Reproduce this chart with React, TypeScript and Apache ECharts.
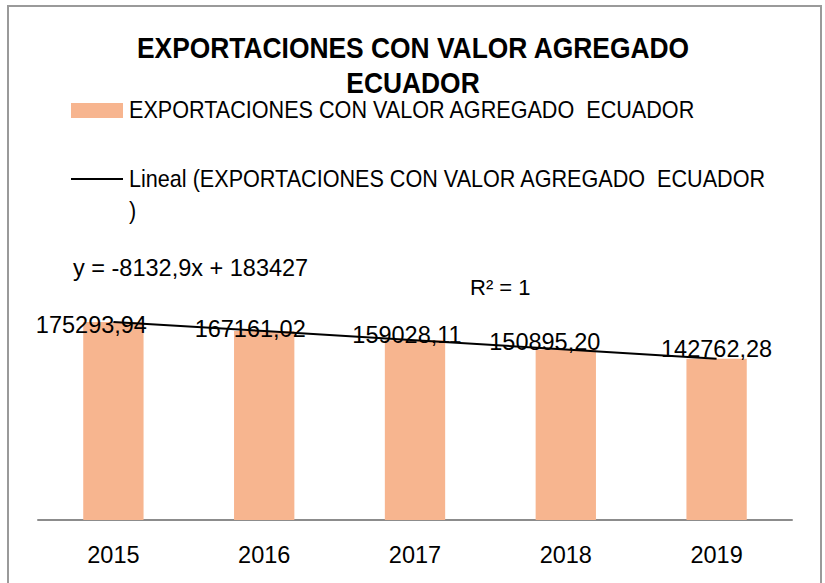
import React, { useEffect, useRef } from "react";
import * as echarts from "echarts";

const categories = ["2015", "2016", "2017", "2018", "2019"];
const exportValues = [175293.94, 167161.02, 159028.11, 150895.2, 142762.28];
const trendValues = [175294.1, 167161.2, 159028.3, 150895.4, 142762.5];
const titleLines = ["EXPORTACIONES CON VALOR AGREGADO", "ECUADOR"];
const seriesName = "EXPORTACIONES CON VALOR AGREGADO  ECUADOR";
const trendLegendLines = ["Lineal (EXPORTACIONES CON VALOR AGREGADO  ECUADOR", ")"];
const equationText = "y = -8132,9x + 183427";
const r2Text = "R² = 1";

// label offsets (style only) relative to each bar's top-center
const labelShifts = [
  [-22, 3],
  [-14, -2],
  [-8, -5],
  [-21, -7],
  [0, -10],
];

const SANS = "'Liberation Sans', Arial, sans-serif";
const BAR_COLOR = "#F7B58F";

export default function App() {
  const ref = useRef<HTMLDivElement>(null);
  useEffect(() => {
    if (!ref.current) return;
    const chart = echarts.init(ref.current, undefined, { renderer: "svg" });
    const fmt = (v: number) => v.toFixed(2).replace(".", ",");
    const legendText = (text: string, y: number) => ({
      type: "text",
      x: 129,
      y,
      scaleX: 0.9,
      style: {
        text,
        fontFamily: SANS,
        fontSize: 24,
        fill: "#000",
        verticalAlign: "middle",
      },
    });
    const titleText = (text: string, y: number) => ({
      type: "text",
      x: 413,
      y,
      scaleX: 0.91,
      style: {
        text,
        fontFamily: SANS,
        fontWeight: "bold",
        fontSize: 29,
        fill: "#000",
        align: "center",
        verticalAlign: "middle",
      },
    });
    chart.setOption({
      animation: false,
      backgroundColor: "#ffffff",
      grid: { left: 38, right: 33, top: 294, bottom: 63 },
      xAxis: {
        type: "category",
        data: categories,
        axisLine: { show: true, lineStyle: { color: "#8c8c8c", width: 2 } },
        axisTick: { show: false },
        axisLabel: {
          fontFamily: SANS,
          fontSize: 23.5,
          color: "#000",
          margin: 35,
          verticalAlign: "middle",
        },
      },
      yAxis: {
        type: "value",
        min: 0,
        max: 200000,
        show: false,
        splitLine: { show: false },
      },
      series: [
        {
          type: "bar",
          name: seriesName,
          barWidth: "40%",
          itemStyle: { color: BAR_COLOR },
          data: exportValues.map((v, i) => ({
            value: v,
            label: {
              show: true,
              position: ["50%", 0],
              align: "center",
              verticalAlign: "middle",
              offset: labelShifts[i],
              formatter: () => fmt(v),
              fontFamily: SANS,
              fontSize: 23.5,
              color: "#000",
            },
          })),
        },
        {
          type: "line",
          name: "trend",
          data: trendValues,
          showSymbol: false,
          symbol: "none",
          lineStyle: { color: "#000", width: 2 },
          z: 5,
        },
      ],
      graphic: [
        {
          type: "rect",
          shape: { x: 8, y: 6, width: 813, height: 620 },
          style: { fill: "none", stroke: "#9a9a9a", lineWidth: 2 },
          silent: true,
        },
        titleText(titleLines[0], 48),
        titleText(titleLines[1], 83),
        {
          type: "rect",
          shape: { x: 71, y: 103, width: 52, height: 15 },
          style: { fill: BAR_COLOR },
        },
        legendText(seriesName, 110),
        {
          type: "line",
          shape: { x1: 71, y1: 179, x2: 123, y2: 179 },
          style: { stroke: "#000", lineWidth: 2 },
        },
        legendText(trendLegendLines[0], 179),
        legendText(trendLegendLines[1], 211),
        {
          type: "text",
          x: 73,
          y: 268,
          style: {
            text: equationText,
            fontFamily: SANS,
            fontSize: 23.5,
            fill: "#000",
            verticalAlign: "middle",
          },
        },
        {
          type: "text",
          x: 470,
          y: 287,
          style: {
            text: r2Text,
            fontFamily: SANS,
            fontSize: 22,
            fill: "#000",
            verticalAlign: "middle",
          },
        },
      ],
    });
    return () => chart.dispose();
  }, []);
  return (
    <div
      ref={ref}
      style={{ position: "absolute", left: 0, top: 0, width: 825, height: 583 }}
    />
  );
}
